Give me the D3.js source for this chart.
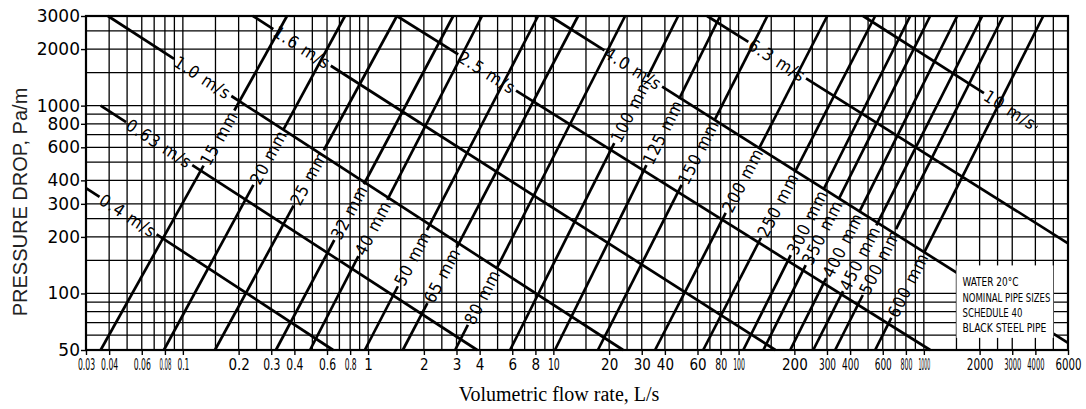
<!DOCTYPE html>
<html>
<head>
<meta charset="utf-8">
<script src="https://cdn.jsdelivr.net/npm/d3@7"></script>
<style>
  body { margin: 0; background: #fff; }
  svg { display: block; }
</style>
</head>
<body>
<svg id="chart" width="1086" height="409"></svg>
<script>
'use strict';

// axis tick labels
let flowTicks = [0.03, 0.04, 0.06, 0.08, 0.1, 0.2, 0.3, 0.4, 0.6, 0.8, 1, 2, 3, 4, 6, 8, 10,
    20, 30, 40, 60, 80, 100, 200, 300, 400, 600, 800, 1000, 2000, 3000, 4000, 6000];
let pressureTicks = [50, 100, 200, 300, 400, 600, 800, 1000, 2000, 3000];
let gridSteps = [1, 1.5, 2, 2.5, 3, 4, 5, 6, 7, 8, 9];

// pipe lines: flow (L/s) at 50 Pa/m and at 3000 Pa/m, label placed at pressure
let pipeNames = ["15 mm", "20 mm", "25 mm", "32 mm", "40 mm", "50 mm", "65 mm", "80 mm", "100 mm",
    "125 mm", "150 mm", "200 mm", "250 mm", "300 mm", "350 mm", "400 mm", "450 mm", "500 mm", "600 mm"];
let pipeLowFlow = [0.036, 0.079, 0.149, 0.318, 0.486, 0.96, 1.54, 2.95, 5.84,
    10.2, 17.4, 35.4, 64.4, 106, 136, 190, 253, 332, 546];
let pipeHighFlow = [0.365, 0.75, 1.43, 2.88, 4.12, 8.27, 13.6, 24.4, 47.2,
    79.5, 143, 301, 546, 844, 1082, 1514, 2066, 2683, 4412];
let pipeLabelAt = [672, 532, 412, 271, 223, 154, 125, 96, 947,
    724, 566, 401, 296, 240, 212, 181, 154, 147, 111];

// velocity lines: [flow, pressure] at both ends, label placed at flow
let velNames = ["0.4 m/s", "0.63 m/s", "1.0 m/s", "1.6 m/s", "2.5 m/s", "4.0 m/s", "6.3 m/s", "10 m/s"];
let velStart = [[0.03, 364], [0.036, 1000], [0.0394, 3000], [0.239, 3000], [1.43, 3000], [9.6, 3000], [67.6, 3000], [470, 3000]];
let velEnd = [[0.647, 50], [3.88, 50], [23.8, 50], [158, 50], [1082, 50], [6000, 54.5], [6000, 185], [4094, 769]];
let velLabelAt = [0.0506, 0.0745, 0.128, 0.44, 4.39, 27, 161.5, 2926];

let notes = ["WATER 20°C", "NOMINAL PIPE SIZES", "SCHEDULE 40", "BLACK STEEL PIPE"];

let svg = d3.select("#chart");
let x = d3.scaleLog().domain([0.03, 6000]).range([86, 1068]);
let y = d3.scaleLog().domain([50, 3000]).range([350, 16]);

let labelFont = "'DejaVu Sans Condensed', 'DejaVu Sans', sans-serif";

function gridValues(lo, hi, e0, e1) {
    let out = [];
    for (let e = e0; e <= e1; e++) {
        gridSteps.forEach(m => {
            let v = +(m * Math.pow(10, e)).toPrecision(4);
            if (v >= lo && v <= hi) out.push(v);
        });
    }
    return out;
}

function drawGrid() {
    let g = svg.append("g").attr("stroke", "#000").attr("stroke-width", 1.3);
    g.selectAll(".gx").data(gridValues(0.03, 6000, -2, 3)).join("line")
        .attr("x1", d => x(d)).attr("x2", d => x(d))
        .attr("y1", y(3000)).attr("y2", y(50));
    g.selectAll(".gy").data(gridValues(50, 3000, 1, 3)).join("line")
        .attr("y1", d => y(d)).attr("y2", d => y(d))
        .attr("x1", x(0.03)).attr("x2", x(6000));
}

function drawAxes() {
    let xAxis = d3.axisBottom(x).tickValues(flowTicks).tickFormat(d => String(d)).tickSize(5).tickPadding(4);
    let gx = svg.append("g").attr("transform", "translate(0," + y(50) + ")").call(xAxis);
    gx.select(".domain").remove();
    gx.selectAll("line").attr("stroke", "#000").attr("stroke-width", 1.4);
    gx.selectAll("text")
        .style("font-family", labelFont)
        .style("font-stretch", "condensed")
        .style("font-size", "15px").attr("fill", "#000");

    // squeeze crowded labels sideways
    let nodes = gx.selectAll("text").nodes();
    nodes.forEach((n, i) => {
        let c = x(flowTicks[i]);
        let gap = Math.min(i > 0 ? c - x(flowTicks[i - 1]) : 99,
            i < nodes.length - 1 ? x(flowTicks[i + 1]) - c : 2 * (1084 - c));
        let w = n.getComputedTextLength();
        if (w > gap - 6) {
            d3.select(n).attr("transform", "scale(" + ((gap - 6) / w) + ",1)");
        }
    });

    let yAxis = d3.axisLeft(y).tickValues(pressureTicks).tickFormat(d => String(d)).tickSize(5).tickPadding(1);
    let gy = svg.append("g").attr("transform", "translate(" + x(0.03) + ",0)").call(yAxis);
    gy.select(".domain").remove();
    gy.selectAll("line").attr("stroke", "#000").attr("stroke-width", 1.4);
    gy.selectAll("text")
        .style("font-family", "'DejaVu Sans', sans-serif")
        .style("font-size", "17px").attr("fill", "#000");

    svg.append("rect")
        .attr("x", x(0.03)).attr("y", y(3000))
        .attr("width", x(6000) - x(0.03)).attr("height", y(50) - y(3000))
        .attr("fill", "none").attr("stroke", "#000").attr("stroke-width", 2.2);

    svg.append("text")
        .attr("transform", "translate(27,202) rotate(-90)")
        .attr("text-anchor", "middle")
        .style("font-family", "'Liberation Sans', Arial, sans-serif")
        .style("font-size", "20px").attr("fill", "#222")
        .text("PRESSURE DROP, Pa/m");

    svg.append("text")
        .attr("x", 559).attr("y", 401)
        .attr("text-anchor", "middle")
        .style("font-family", "'Liberation Serif', 'Times New Roman', serif")
        .style("font-size", "20px").attr("fill", "#000")
        .text("Volumetric flow rate, L/s");
}

function labelledLine(g, a, b, centre, label) {
    let len = Math.hypot(b[0] - a[0], b[1] - a[1]);
    let ux = (b[0] - a[0]) / len, uy = (b[1] - a[1]) / len;
    let ang = Math.atan2(uy, ux) * 180 / Math.PI;
    let t = g.append("text")
        .attr("transform", "translate(" + centre[0] + "," + centre[1] + ") rotate(" + ang + ")")
        .attr("text-anchor", "middle").attr("dy", "0.36em")
        .style("font-family", labelFont)
        .style("font-stretch", "condensed")
        .style("font-size", "17px").style("letter-spacing", "1px")
        .attr("fill", "#000")
        .text(label);
    let half = t.node().getComputedTextLength() / 2 + 2;
    let s = (centre[0] - a[0]) * ux + (centre[1] - a[1]) * uy;
    [[0, s - half], [s + half, len]].filter(p => p[1] > p[0]).forEach(p => {
        g.append("line")
            .attr("x1", a[0] + ux * p[0]).attr("y1", a[1] + uy * p[0])
            .attr("x2", a[0] + ux * p[1]).attr("y2", a[1] + uy * p[1])
            .attr("stroke", "#000").attr("stroke-width", 2.7);
    });
}

function drawLines() {
    let g = svg.append("g");
    velNames.forEach((name, i) => {
        let a = [x(velStart[i][0]), y(velStart[i][1])];
        let b = [x(velEnd[i][0]), y(velEnd[i][1])];
        let cx = x(velLabelAt[i]);
        let cy = a[1] + (cx - a[0]) * (b[1] - a[1]) / (b[0] - a[0]);
        labelledLine(g, a, b, [cx, cy], name);
    });
    pipeNames.forEach((name, i) => {
        let a = [x(pipeLowFlow[i]), y(50)];
        let b = [x(pipeHighFlow[i]), y(3000)];
        let cy = y(pipeLabelAt[i]);
        let cx = a[0] + (cy - a[1]) * (b[0] - a[0]) / (b[1] - a[1]);
        labelledLine(g, a, b, [cx, cy], name);
    });
}

function drawNote() {
    let x0 = x(1500), x1 = x(5000);
    let y0 = y(141), y1 = y(58);
    svg.append("rect").attr("x", x0).attr("y", y0)
        .attr("width", x1 - x0).attr("height", y1 - y0).attr("fill", "#fff");
    let widths = [56, 88, 60, 84];
    notes.forEach((n, i) => {
        let t = svg.append("text")
            .style("font-family", labelFont)
            .style("font-size", "13px").attr("fill", "#000")
            .text(n);
        let k = widths[i] / t.node().getComputedTextLength();
        t.attr("transform", "translate(" + (x0 + 6) + "," + (y0 + 21 + i * 15.3) + ") scale(" + k + ",1)");
    });
}

drawGrid();
drawLines();
drawNote();
drawAxes();
</script>
</body>
</html>
